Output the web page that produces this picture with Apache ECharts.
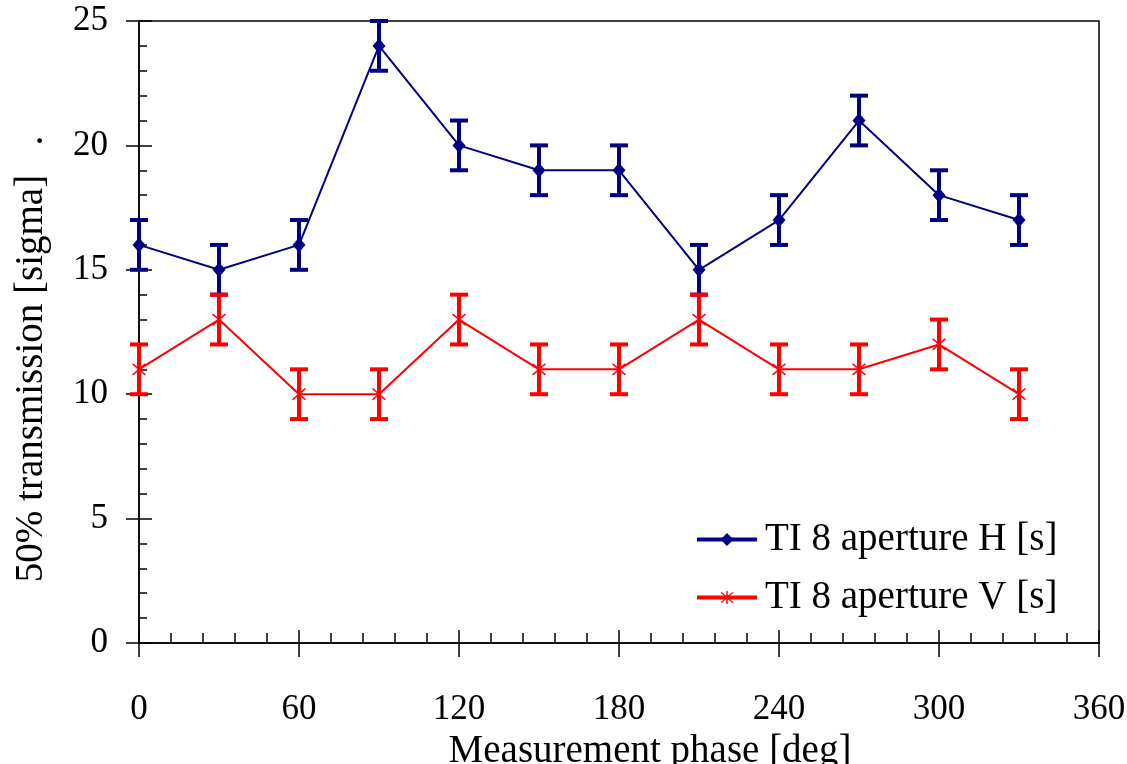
<!DOCTYPE html>
<html>
<head>
<meta charset="utf-8">
<script src="https://cdn.jsdelivr.net/npm/echarts@6/dist/echarts.min.js"></script>
<style>
  html, body { margin: 0; padding: 0; background: #fff; }
  #chart { width: 1127px; height: 764px; }
</style>
</head>
<body>
<div id="chart"></div>
<script>
// data
const phases = [0, 30, 60, 90, 120, 150, 180, 210, 240, 270, 300, 330]
const valuesH = [16, 15, 16, 24, 20, 19, 19, 15, 17, 21, 18, 17]
const errorsH = [1, 1, 1, 1, 1, 1, 1, 1, 1, 1, 1, 1]
const valuesV = [11, 13, 10, 10, 13, 11, 11, 13, 11, 11, 12, 10]
const errorsV = [1, 1, 1, 1, 1, 1, 1, 1, 1, 1, 1, 1]
const xTicks = [0, 60, 120, 180, 240, 300, 360]
const yTicks = [0, 5, 10, 15, 20, 25]

const NAVY = '#000080'
const RED = '#ff0000'
const FONT = '"Liberation Serif", "Times New Roman", serif'
const asterisk = 'path://M9 0L11 0L11 20L9 20Z M1.3 2.7L2.7 1.3L18.7 17.3L17.3 18.7Z M17.3 1.3L18.7 2.7L2.7 18.7L1.3 17.3Z'

const points = (vals) => phases.map((p, i) => [p, vals[i]])
const bars = (vals, errs) => phases.map((p, i) => [p, vals[i] - errs[i], vals[i] + errs[i]])

function errorBar(color) {
  return function (params, api) {
    const top = api.coord([api.value(0), api.value(2)])
    const bot = api.coord([api.value(0), api.value(1)])
    const half = 9
    const style = { stroke: color, lineWidth: 4 }
    return {
      type: 'group',
      children: [
        { type: 'line', shape: { x1: top[0], y1: top[1], x2: bot[0], y2: bot[1] }, style },
        { type: 'line', shape: { x1: top[0] - half, y1: top[1], x2: top[0] + half, y2: top[1] }, style },
        { type: 'line', shape: { x1: bot[0] - half, y1: bot[1], x2: bot[0] + half, y2: bot[1] }, style },
      ],
    }
  }
}

const chart = echarts.init(document.getElementById('chart'))
const axisText = { fontFamily: FONT, fontSize: 35, color: '#000' }

chart.setOption({
  animation: false,
  grid: {
    left: 139, right: 28, top: 21, bottom: 121,
    outerBoundsMode: 'none',
    show: true, borderColor: '#000', borderWidth: 1.5,
  },
  legend: {
    orient: 'vertical',
    left: 690, top: 515,
    itemWidth: 60, itemHeight: 16, itemGap: 19,
    textStyle: { fontFamily: FONT, fontSize: 39, color: '#000', padding: [0, 0, 0, 3] },
    lineStyle: { width: 4 },
    data: ['TI 8 aperture H [s]', 'TI 8 aperture V [s]'],
  },
  xAxis: [
    {
      type: 'value', min: 0, max: 360, interval: 60,
      name: 'Measurement phase [deg]',
      nameLocation: 'middle', nameGap: 80,
      nameTextStyle: { fontFamily: FONT, fontSize: 39, color: '#000', padding: [0, 0, 0, 62] },
      axisLine: { lineStyle: { color: '#000', width: 1.5 } },
      axisTick: { inside: true, length: 13, lineStyle: { color: '#000', width: 1.5 } },
      minorTick: { show: true, splitNumber: 5, length: 10, lineStyle: { color: '#000', width: 1.5 } },
      axisLabel: Object.assign({ margin: 49, formatter: (v) => xTicks.includes(v) ? String(v) : '' }, axisText),
      splitLine: { show: false },
    },
    {
      type: 'value', min: 0, max: 360, interval: 60, position: 'bottom',
      axisLine: { show: false },
      axisTick: { length: 14, lineStyle: { color: '#000', width: 1.5 } },
      axisLabel: { show: false },
      splitLine: { show: false },
    },
  ],
  yAxis: [
    {
      type: 'value', min: 0, max: 25, interval: 5,
      name: '50% transmission [sigma]   .',
      nameLocation: 'middle', nameGap: 88, nameRotate: 90,
      nameTextStyle: { fontFamily: FONT, fontSize: 39, color: '#000', padding: [0, 54, 0, 0] },
      axisLine: { lineStyle: { color: '#000', width: 1.5 } },
      axisTick: { inside: true, length: 13, lineStyle: { color: '#000', width: 1.5 } },
      minorTick: { show: true, splitNumber: 5, length: 8, lineStyle: { color: '#000', width: 1.5 } },
      axisLabel: Object.assign({ margin: 31, formatter: (v) => yTicks.includes(v) ? String(v) : '' }, axisText),
      splitLine: { show: false },
    },
    {
      type: 'value', min: 0, max: 25, interval: 5, position: 'left',
      axisLine: { show: false },
      axisTick: { length: 13, lineStyle: { color: '#000', width: 1.5 } },
      axisLabel: { show: false },
      splitLine: { show: false },
    },
  ],
  series: [
    {
      name: 'TI 8 aperture H [s]',
      type: 'line',
      data: points(valuesH),
      symbol: 'diamond', symbolSize: [13, 15],
      lineStyle: { color: NAVY, width: 2 },
      itemStyle: { color: NAVY },
      z: 3,
    },
    {
      name: 'TI 8 aperture V [s]',
      type: 'line',
      data: points(valuesV),
      symbol: asterisk, symbolSize: 14,
      lineStyle: { color: RED, width: 2 },
      itemStyle: { color: RED },
      z: 3,
    },
    {
      type: 'custom',
      renderItem: errorBar(NAVY),
      data: bars(valuesH, errorsH),
      encode: { x: 0, y: [1, 2] },
      z: 2,
    },
    {
      type: 'custom',
      renderItem: errorBar(RED),
      data: bars(valuesV, errorsV),
      encode: { x: 0, y: [1, 2] },
      z: 2,
    },
  ],
})
</script>
</body>
</html>
